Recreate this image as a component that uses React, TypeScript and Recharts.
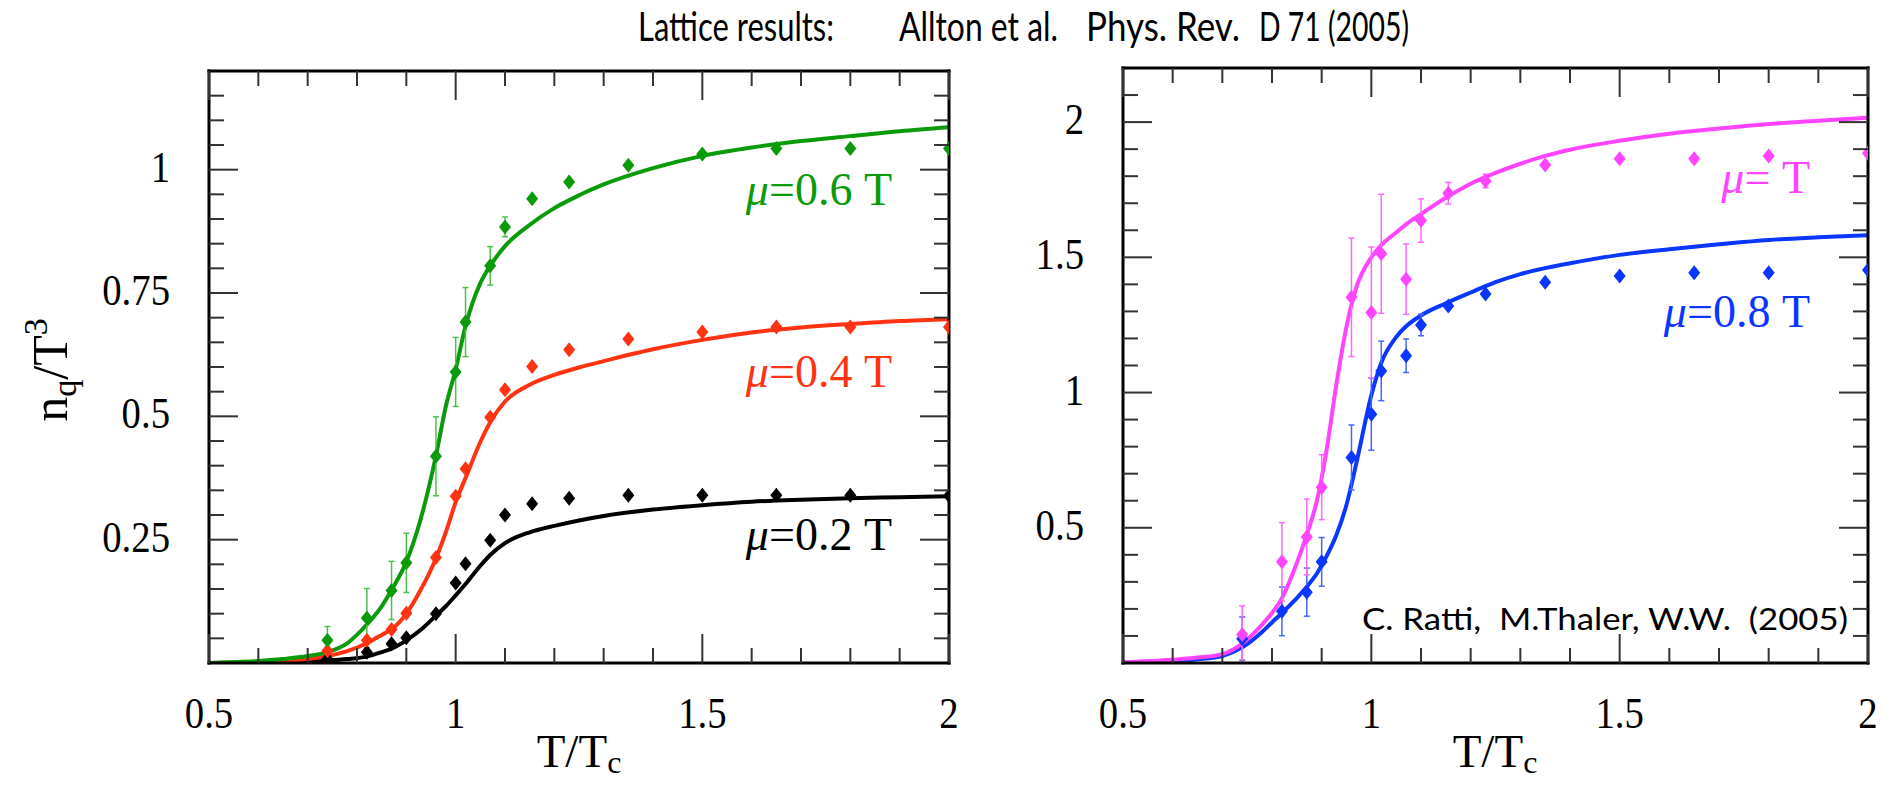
import React from 'react';
import { ComposedChart, Line, Scatter, XAxis, YAxis, ErrorBar } from 'recharts';

// lattice points (same T/Tc grid in both panels)
const latticeT = [0.74, 0.82, 0.87, 0.9, 0.96, 1.0, 1.02, 1.07, 1.1, 1.155, 1.23, 1.35, 1.5, 1.65, 1.8, 2.0];
const lat02 = [0.008, 0.022, 0.039, 0.051, 0.1, 0.162, 0.201, 0.249, 0.3, 0.323, 0.334, 0.34, 0.34, 0.34, 0.34, 0.339];
const lat04 = [0.025, 0.046, 0.068, 0.101, 0.214, 0.338, 0.394, 0.498, 0.554, 0.601, 0.635, 0.657, 0.671, 0.681, 0.681, 0.681];
const lat06 = [0.046, 0.091, 0.147, 0.203, 0.419, 0.59, 0.691, 0.805, 0.884, 0.941, 0.975, 1.009, 1.032, 1.043, 1.043, 1.043];
const err06 = [0.028, 0.06, 0.059, 0.06, 0.08, 0.07, 0.07, 0.039, 0.02, 0, 0, 0, 0, 0, 0, 0];
const lat08 = [0.09, 0.191, 0.262, 0.374, 0.76, 0.92, 1.08, 1.136, 1.25, 1.32, 1.364, 1.408, 1.431, 1.443, 1.443, 1.453];
const err08 = [0.08, 0.09, 0.089, 0.09, 0.12, 0.133, 0.11, 0.062, 0.04, 0, 0, 0, 0, 0, 0, 0];
const lat10 = [0.105, 0.374, 0.466, 0.65, 1.352, 1.296, 1.513, 1.419, 1.636, 1.737, 1.782, 1.841, 1.864, 1.864, 1.875, 1.885];
const err10 = [0.106, 0.145, 0.14, 0.12, 0.219, 0.242, 0.22, 0.13, 0.08, 0.04, 0.025, 0, 0, 0, 0, 0];

// model curves
const modelTLeft = [0.5, 0.55, 0.6, 0.65, 0.7, 0.74, 0.78, 0.82, 0.85, 0.87, 0.9, 0.93, 0.96, 0.98, 1.0, 1.02, 1.05, 1.07, 1.1, 1.15, 1.2, 1.25, 1.3, 1.4, 1.5, 1.6, 1.7, 1.8, 1.9, 2.0];
const model02 = [0, 0, 0.001, 0.002, 0.003, 0.005, 0.008, 0.013, 0.022, 0.029, 0.046, 0.068, 0.096, 0.115, 0.137, 0.16, 0.197, 0.219, 0.243, 0.265, 0.278, 0.289, 0.298, 0.311, 0.32, 0.327, 0.331, 0.334, 0.336, 0.338];
const model04 = [0, 0.001, 0.002, 0.004, 0.008, 0.014, 0.024, 0.04, 0.057, 0.068, 0.1, 0.15, 0.212, 0.265, 0.326, 0.375, 0.448, 0.488, 0.53, 0.564, 0.584, 0.599, 0.612, 0.636, 0.655, 0.67, 0.68, 0.687, 0.693, 0.697];
const model06 = [0, 0.002, 0.004, 0.008, 0.014, 0.022, 0.04, 0.078, 0.115, 0.148, 0.205, 0.295, 0.42, 0.52, 0.595, 0.683, 0.77, 0.805, 0.845, 0.888, 0.922, 0.948, 0.97, 1.003, 1.028, 1.045, 1.058, 1.068, 1.078, 1.086];
const modelTRight = [0.5, 0.6, 0.65, 0.7, 0.74, 0.78, 0.8, 0.82, 0.85, 0.87, 0.89, 0.91, 0.93, 0.95, 0.97, 1.0, 1.02, 1.05, 1.07, 1.1, 1.15, 1.2, 1.25, 1.3, 1.35, 1.4, 1.5, 1.6, 1.7, 1.8, 1.9, 2.0];
const model08 = [0.002, 0.008, 0.014, 0.026, 0.058, 0.115, 0.15, 0.185, 0.24, 0.282, 0.33, 0.395, 0.475, 0.585, 0.74, 0.99, 1.11, 1.205, 1.245, 1.285, 1.33, 1.37, 1.408, 1.438, 1.46, 1.478, 1.509, 1.53, 1.548, 1.564, 1.574, 1.582];
const model10 = [0.003, 0.012, 0.02, 0.033, 0.072, 0.142, 0.185, 0.24, 0.37, 0.474, 0.597, 0.788, 1.035, 1.244, 1.39, 1.5, 1.545, 1.592, 1.622, 1.66, 1.72, 1.772, 1.812, 1.846, 1.875, 1.898, 1.931, 1.957, 1.976, 1.993, 2.005, 2.016];

// ticks
const xMajor = [0.5, 1, 1.5, 2];
const xMinor = [0.6, 0.7, 0.8, 0.9, 1.1, 1.2, 1.3, 1.4, 1.6, 1.7, 1.8, 1.9];
const yMajorLeft = [0.25, 0.5, 0.75, 1];
const yMinorLeft = [0.05, 0.1, 0.15, 0.2, 0.3, 0.35, 0.4, 0.45, 0.55, 0.6, 0.65, 0.7, 0.8, 0.85, 0.9, 0.95, 1.05, 1.1, 1.15];
const yMajorRight = [0.5, 1, 1.5, 2];
const yMinorRight = [0.1, 0.2, 0.3, 0.4, 0.6, 0.7, 0.8, 0.9, 1.1, 1.2, 1.3, 1.4, 1.6, 1.7, 1.8, 1.9, 2.1];

const SERIF = '"Liberation Serif", "Times New Roman", serif';
const SANS = 'Lato, "Open Sans", sans-serif';
const GREEN = '#0a9a0a';
const RED = '#ff3311';
const MAGENTA = '#ff44ff';
const BLUE = '#0a36ff';

const points = (vals: number[], errs?: number[]) =>
  latticeT.map((t, i) => ({ t, v: vals[i], e: errs ? errs[i] : 0 }));
const curve = (ts: number[], vals: number[]) => ts.map((t, i) => ({ t, v: vals[i] }));
const sorted = (a: number[], b: number[]) => [...a, ...b].sort((p, q) => p - q);

const Diamond = (props: any) => {
  const { cx, cy, fill } = props;
  if (cx == null || cy == null) return null;
  return <polygon points={`${cx},${cy - 7.5} ${cx + 6},${cy} ${cx},${cy + 7.5} ${cx - 6},${cy}`} fill={fill} />;
};

const isMajor = (majors: number[], v: number) => majors.some((m) => Math.abs(m - v) < 1e-9);
const TICK = { stroke: '#333', strokeWidth: 2 };

// x ticks from the bottom axis: inward at the bottom, repeated inward at the top edge, label below
const xTick = (plotH: number) => (props: any) => {
  const { x, y, payload } = props;
  const major = isMajor(xMajor, payload.value);
  const len = major ? 29 : 15;
  return (
    <g>
      <line x1={x} y1={y} x2={x} y2={y - len} {...TICK} />
      <line x1={x} y1={y - plotH} x2={x} y2={y - plotH + len} {...TICK} />
      {major && (
        <text transform={`translate(${x},${y + 65}) scale(0.88,1)`} textAnchor="middle" fontSize={44}
          fontFamily={SERIF} fill="#000">{String(payload.value)}</text>
      )}
    </g>
  );
};

// y ticks from the left axis: inward at the left, repeated inward at the right edge, label at left
const yTick = (majors: number[], plotW: number) => (props: any) => {
  const { x, y, payload } = props;
  const major = isMajor(majors, payload.value);
  const len = major ? 29 : 15;
  return (
    <g>
      <line x1={x} y1={y} x2={x + len} y2={y} {...TICK} />
      <line x1={x + plotW} y1={y} x2={x + plotW - len} y2={y} {...TICK} />
      {major && (
        <text transform={`translate(${x - 39},${y + 12}) scale(0.88,1)`} textAnchor="end" fontSize={44}
          fontFamily={SERIF} fill="#000">{String(payload.value)}</text>
      )}
    </g>
  );
};

const frame = { stroke: '#000', strokeWidth: 3, strokeLinecap: 'square' as const };
const bare = { tickSize: 0, tickMargin: 0, tickLine: false, interval: 0 as const, allowDataOverflow: true, type: 'number' as const };

const Panel = ({ width, margin, yWidth, yDomain, yMajor, yMinor, children }: any) => {
  const xAll = sorted(xMajor, xMinor);
  const yAll = sorted(yMajor, yMinor);
  const plotH = 785 - margin.top - 1 - 122;
  const plotW = width - margin.right - 1 - yWidth;
  return (
    <ComposedChart width={width} height={785} margin={margin}>
      <XAxis {...bare} xAxisId="b" dataKey="t" domain={[0.5, 2]} ticks={xAll} height={122} axisLine={frame}
        tick={xTick(plotH)} />
      <XAxis {...bare} xAxisId="t" orientation="top" domain={[0.5, 2]} ticks={xMajor} height={1} axisLine={frame}
        tick={false} />
      <YAxis {...bare} yAxisId="l" dataKey="v" domain={yDomain} ticks={yAll} width={yWidth} axisLine={frame}
        tick={yTick(yMajor, plotW)} />
      <YAxis {...bare} yAxisId="r" orientation="right" domain={yDomain} ticks={yMajor} width={1} axisLine={frame}
        tick={false} />
      {children}
    </ComposedChart>
  );
};

const model = (data: any[], color: string, key: string) => (
  <Line key={key} xAxisId="b" yAxisId="l" data={data} dataKey="v" type="monotone" stroke={color} strokeWidth={4}
    dot={false} activeDot={false} isAnimationActive={false} />
);

const lattice = (data: any[], color: string, errColor: string, key: string) => (
  <Scatter key={key} xAxisId="b" yAxisId="l" data={data} fill={color} shape={Diamond} isAnimationActive={false}>
    <ErrorBar dataKey="e" direction="y" width={3} stroke={errColor} strokeWidth={1.5} />
  </Scatter>
);

export default function App() {
  return (
    <div style={{ position: 'absolute', left: 0, top: 0, width: 1885, height: 785, background: '#fff' }}>
      <div style={{ position: 'absolute', left: 0, top: 0 }}>
        <Panel width={960} margin={{ top: 70, right: 10, bottom: 0, left: 0 }} yWidth={209} yDomain={[0, 1.2]}
          yMajor={yMajorLeft} yMinor={yMinorLeft}>
          {model(curve(modelTLeft, model02), '#000', 'm02')}
          {model(curve(modelTLeft, model04), RED, 'm04')}
          {model(curve(modelTLeft, model06), GREEN, 'm06')}
          {lattice(points(lat02), '#000', '#444', 'l02')}
          {lattice(points(lat04), RED, RED, 'l04')}
          {lattice(points(lat06, err06), GREEN, '#4cc24c', 'l06')}
        </Panel>
      </div>
      <div style={{ position: 'absolute', left: 980, top: 0 }}>
        <Panel width={905} margin={{ top: 67, right: 16, bottom: 0, left: 0 }} yWidth={143} yDomain={[0, 2.2]}
          yMajor={yMajorRight} yMinor={yMinorRight}>
          {model(curve(modelTRight, model08), BLUE, 'm08')}
          {model(curve(modelTRight, model10), MAGENTA, 'm10')}
          {lattice(points(lat08, err08), BLUE, '#4466ff', 'l08')}
          {lattice(points(lat10, err10), MAGENTA, '#ff66ff', 'l10')}
        </Panel>
      </div>
      <svg width={1885} height={785} style={{ position: 'absolute', left: 0, top: 0, pointerEvents: 'none' }}>
        <g fontFamily={SANS} fontSize={40} fill="#000">
          <text x={638} y={41} textLength={196} lengthAdjust="spacingAndGlyphs">Lattice results:</text>
          <text x={899} y={41} textLength={159} lengthAdjust="spacingAndGlyphs">Allton et al.</text>
          <text x={1086} y={41} textLength={154} lengthAdjust="spacingAndGlyphs">Phys. Rev.</text>
          <text x={1259} y={41} textLength={150} lengthAdjust="spacingAndGlyphs">D 71 (2005)</text>
        </g>
        <text x={1362} y={630} fontFamily={SANS} fontSize={31} fill="#000" textLength={486} lengthAdjust="spacingAndGlyphs"
          style={{ whiteSpace: 'pre' }}>C. Ratti,  M.Thaler, W.W.  (2005)</text>
        <g fontFamily={SERIF} fontSize={46} textAnchor="end">
          <text x={892} y={205} fill={GREEN}><tspan fontStyle="italic">μ</tspan>=0.6 T</text>
          <text x={892} y={387} fill={RED}><tspan fontStyle="italic">μ</tspan>=0.4 T</text>
          <text x={892} y={550} fill="#000"><tspan fontStyle="italic">μ</tspan>=0.2 T</text>
          <text x={1810} y={193} fill={MAGENTA}><tspan fontStyle="italic">μ</tspan>= T</text>
          <text x={1810} y={327} fill={BLUE}><tspan fontStyle="italic">μ</tspan>=0.8 T</text>
        </g>
        <g fontFamily={SERIF} fontSize={47} fill="#000" textAnchor="middle">
          <text x={579} y={767}>T/T<tspan fontSize={32} dy={6}>c</tspan></text>
          <text x={1495} y={767}>T/T<tspan fontSize={32} dy={6}>c</tspan></text>
        </g>
        <text transform="translate(67,370) rotate(-90)" textAnchor="middle" fontFamily={SERIF} fontSize={50} fill="#000">
          n<tspan fontSize={34} dy={9}>q</tspan><tspan dy={-9}>/T</tspan><tspan fontSize={34} dy={-20}>3</tspan>
        </text>
      </svg>
    </div>
  );
}
